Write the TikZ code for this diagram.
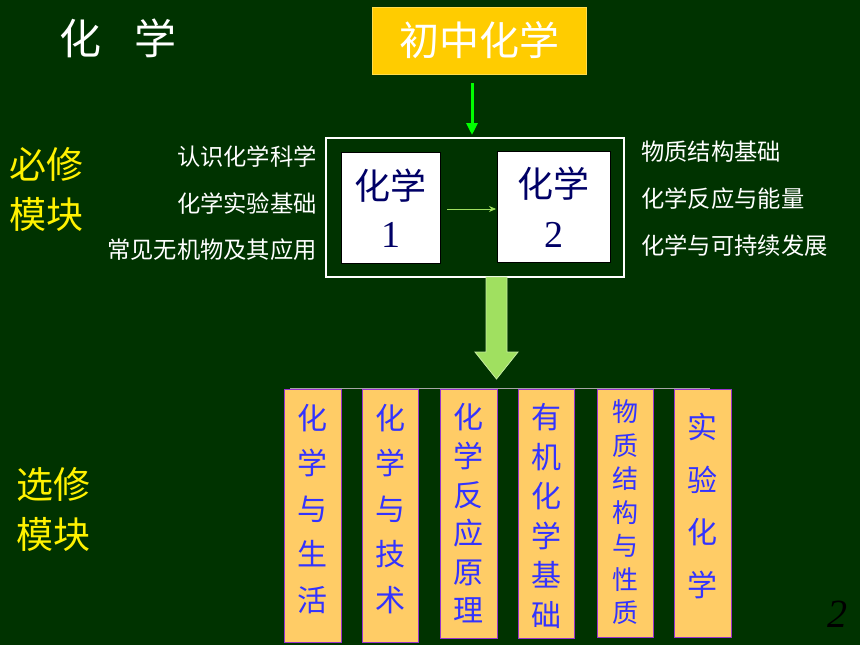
\documentclass[tikz,border=0pt]{standalone}
\usepackage{fontspec}
\newfontfamily\cjk{Noto Sans CJK SC}
\setmainfont{Liberation Serif}
\usetikzlibrary{arrows.meta}
\definecolor{bg}{HTML}{003300}
\definecolor{gold}{HTML}{FFCC00}
\definecolor{peach}{HTML}{FFCC66}
\definecolor{navy}{HTML}{000066}
\definecolor{modblue}{HTML}{3333FF}
\definecolor{lgreen}{HTML}{A0E060}
\definecolor{purp}{HTML}{9933CC}
\tikzset{
  x=1pt,y=-1pt,
  wtxt/.style={text=white,font={\cjk\fontsize{23.3}{26}\selectfont},inner sep=0pt},
  ytxt/.style={text=yellow,font={\cjk\fontsize{37}{50}\selectfont},align=left,inner sep=0pt},
  bookbox/.style={draw=black,fill=white,line width=1pt},
  modbox/.style={draw=purp,fill=peach,line width=0.8pt},
  modtxt/.style={text=modblue,align=center,inner sep=0pt},
}
\begin{document}
\begin{tikzpicture}
\fill[bg] (0,0) rectangle (860,645);
\useasboundingbox (0,0) rectangle (860,645);
% title
\node[text=white,font={\cjk\fontsize{42}{44}\selectfont},inner sep=0pt] (title) at (118,38) {化\hspace{0.8em}学};
% top box
\node[fill=gold,draw=gold!70!white,line width=0.6pt,minimum width=214,minimum height=67,inner sep=0pt,text=white,font={\cjk\fontsize{40}{44}\selectfont}] (junior) at (479,40.5) {初中化学};
% compulsory frame
\draw[white,line width=2pt] (326,138) rectangle (624,277);
\coordinate (ga) at (472,83);
\coordinate (frametop) at (472,135);
\draw[-{Triangle[length=12pt,width=11pt]},color=green,line width=3pt] (ga) -- (frametop);
% book boxes
\node[bookbox,minimum width=99,minimum height=111,inner sep=0pt] (b1) at (390.5,207.5) {};
\node[bookbox,minimum width=113,minimum height=111,inner sep=0pt] (b2) at (553.5,206.5) {};
\node[text=navy,font={\cjk\fontsize{36}{40}\selectfont},inner sep=0pt] (b1a) at (390.5,186) {化学};
\node[text=navy,font={\fontsize{38}{40}\selectfont},inner sep=0pt] (b1b) at (390.5,235) {1};
\node[text=navy,font={\cjk\fontsize{36}{40}\selectfont},inner sep=0pt] (b2a) at (553.5,184) {化学};
\node[text=navy,font={\fontsize{38}{40}\selectfont},inner sep=0pt] (b2b) at (553.5,235) {2};
\coordinate (ta) at (447,209);
\coordinate (tb) at (496,209);
\draw[-{Stealth[length=7pt,width=6pt]},color=lgreen,line width=0.8pt] (ta) -- (tb);
% left list
\node[wtxt,anchor=east] (l1) at (317,157) {认识化学科学};
\node[wtxt,anchor=east] (l2) at (317,204) {化学实验基础};
\node[wtxt,anchor=east] (l3) at (317,250) {常见无机物及其应用};
% right list
\node[wtxt,anchor=west] (r1) at (641,152) {物质结构基础};
\node[wtxt,anchor=west] (r2) at (641,199) {化学反应与能量};
\node[wtxt,anchor=west] (r3) at (641,246) {化学与可持续发展};
% yellow labels
\node[ytxt,anchor=west] (bx) at (9,189) {必修\\模块};
\node[ytxt,anchor=west] (xx) at (16,509) {选修\\模块};
% big arrow
\fill[lgreen,draw=lgreen!60!white,line width=0.8pt] (486,277) -- (507,277) -- (507,352) -- (518,352) -- (496.5,379) -- (475,352) -- (486,352) -- cycle;
\coordinate (arrtip) at (496.5,379);
% elective line
\draw[gray!70,line width=1.2pt] (290,388.5) -- (710,388.5);
% module boxes
\node[modbox,minimum width=57,minimum height=253,inner sep=0pt,anchor=north] (m1) at (312.5,389) {};
\node[modbox,minimum width=56,minimum height=253,inner sep=0pt,anchor=north] (m2) at (390,389) {};
\node[modbox,minimum width=57,minimum height=249,inner sep=0pt,anchor=north] (m3) at (468.5,389) {};
\node[modbox,minimum width=56,minimum height=249,inner sep=0pt,anchor=north] (m4) at (546,389) {};
\node[modbox,minimum width=56,minimum height=248,inner sep=0pt,anchor=north] (m5) at (625,389) {};
\node[modbox,minimum width=57,minimum height=248,inner sep=0pt,anchor=north] (m6) at (702.5,389) {};
\node[modtxt,font={\cjk\fontsize{30}{45.5}\selectfont}] (t1) at (312.5,509) {化\\学\\与\\生\\活};
\node[modtxt,font={\cjk\fontsize{30}{45.5}\selectfont}] (t2) at (390,509) {化\\学\\与\\技\\术};
\node[modtxt,font={\cjk\fontsize{30}{38.6}\selectfont}] (t3) at (468.5,513.5) {化\\学\\反\\应\\原\\理};
\node[modtxt,font={\cjk\fontsize{30}{39.6}\selectfont}] (t4) at (546,516) {有\\机\\化\\学\\基\\础};
\node[modtxt,font={\cjk\fontsize{26}{33.5}\selectfont}] (t5) at (625,512.5) {物\\质\\结\\构\\与\\性\\质};
\node[modtxt,font={\cjk\fontsize{30}{52.7}\selectfont}] (t6) at (702.5,506) {实\\验\\化\\学};
% page number
\node[text=black,font={\fontsize{40}{44}\selectfont\itshape},inner sep=0pt] (pg) at (837,614) {2};
\end{tikzpicture}
\end{document}
